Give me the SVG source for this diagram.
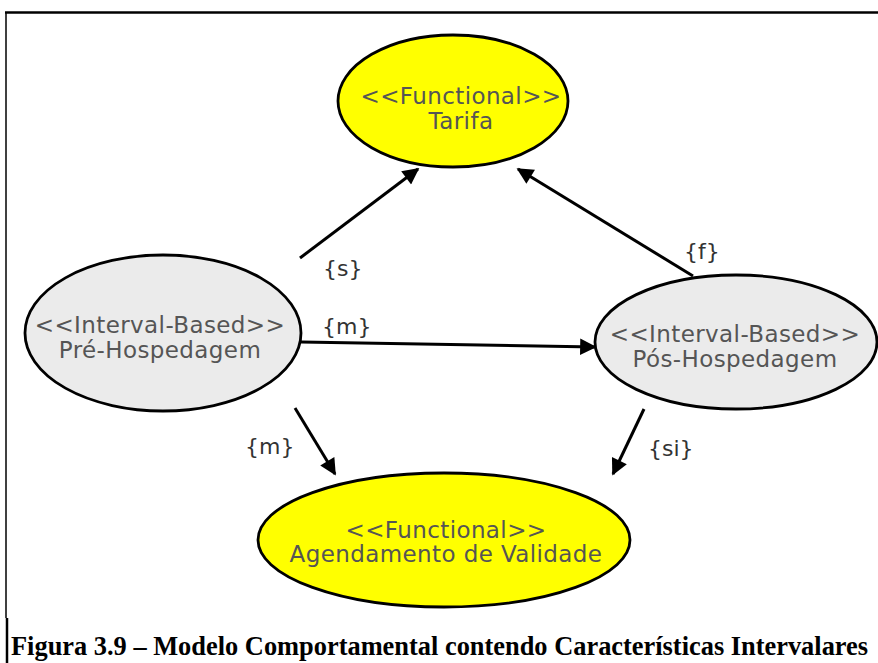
<svg xmlns="http://www.w3.org/2000/svg" width="878" height="663" viewBox="0 0 878 663">
<style>
.node ellipse{stroke:#000;stroke-width:2.8}
.func{fill:#ffff00}
.intv{fill:#ebebeb}
.nt{font-family:"DejaVu Sans",sans-serif;font-size:23px;letter-spacing:0.4px;fill:#555;text-anchor:middle}
.lbl{font-family:"DejaVu Sans",sans-serif;font-size:22px;fill:#333}
.edge{stroke:#000;stroke-width:3;fill:none;marker-end:url(#ah)}
.cap{font-family:"Liberation Serif","Times New Roman",serif;font-weight:bold;font-size:26.4px;fill:#000}
</style>
<defs>
<marker id="ah" viewBox="0 0 10 10" refX="9" refY="5" markerWidth="6.5" markerHeight="5.5" markerUnits="strokeWidth" orient="auto">
<path d="M0,0 L10,5 L0,10 z" fill="#000"/>
</marker>
</defs>
<rect width="878" height="663" fill="#fff"/>
<g id="frame">
<line x1="5" y1="12.5" x2="878" y2="12.5" stroke="#000" stroke-width="2.5"/>
<line x1="6" y1="12" x2="6" y2="618" stroke="#000" stroke-width="1.5"/>
<line x1="7" y1="618" x2="7" y2="663" stroke="#000" stroke-width="2.5"/>
</g>
<g id="connectors">
<line class="edge" x1="300" y1="258" x2="418" y2="169"/>
<line class="edge" x1="693" y1="276" x2="518" y2="169"/>
<line class="edge" x1="301" y1="342" x2="595" y2="347"/>
<line class="edge" x1="295" y1="408" x2="335" y2="474"/>
<line class="edge" x1="644" y1="409" x2="613" y2="474"/>
<text class="lbl" x="323" y="276">{s}</text>
<text class="lbl" x="684" y="259">{f}</text>
<text class="lbl" x="322" y="334">{m}</text>
<text class="lbl" x="245" y="454">{m}</text>
<text class="lbl" x="648" y="456">{si}</text>
</g>
<g id="tarifa" class="node">
<ellipse class="func" cx="453" cy="101" rx="115" ry="66"/>
<text class="nt" x="461" y="104">&lt;&lt;Functional&gt;&gt;</text>
<text class="nt" x="461" y="129">Tarifa</text>
</g>
<g id="pre-hospedagem" class="node">
<ellipse class="intv" cx="163" cy="333" rx="138" ry="78"/>
<text class="nt" x="160" y="333">&lt;&lt;Interval-Based&gt;&gt;</text>
<text class="nt" x="160" y="358">Pré-Hospedagem</text>
</g>
<g id="pos-hospedagem" class="node">
<ellipse class="intv" cx="736" cy="342" rx="141" ry="67"/>
<text class="nt" x="735" y="342">&lt;&lt;Interval-Based&gt;&gt;</text>
<text class="nt" x="735" y="367">Pós-Hospedagem</text>
</g>
<g id="agendamento" class="node">
<ellipse class="func" cx="444" cy="540" rx="186" ry="67"/>
<text class="nt" x="446" y="538">&lt;&lt;Functional&gt;&gt;</text>
<text class="nt" x="446" y="562">Agendamento de Validade</text>
</g>
<text class="cap" x="11" y="655">Figura 3.9 – Modelo Comportamental contendo Características Intervalares</text>
</svg>
